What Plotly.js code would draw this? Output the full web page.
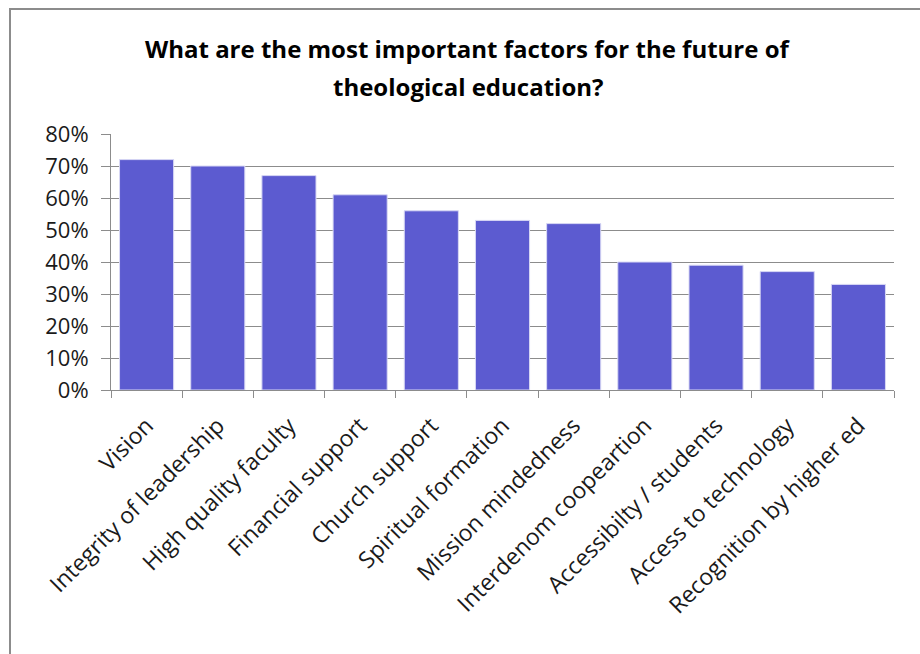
<!DOCTYPE html>
<html>
<head>
<meta charset="utf-8">
<script src="https://cdn.plot.ly/plotly-3.0.1.min.js"></script>
<style>
  html, body { margin: 0; padding: 0; background: #fff; overflow: hidden; }
  #chart { position: absolute; left: 0; top: 0; width: 920px; height: 654px; }
  #frame { position: absolute; left: 9px; top: 8px; width: 1000px; height: 1000px;
           border: 2px solid #8c8c8c; pointer-events: none; }
</style>
</head>
<body>
<div id="chart"></div>
<div id="frame"></div>
<script>
const categories = [
  "Vision", "Integrity of leadership", "High quality faculty", "Financial support",
  "Church support", "Spiritual formation", "Mission mindedness", "Interdenom coopeartion",
  "Accessibilty / students", "Access to technology", "Recognition by higher ed"
];
const values = [0.72, 0.70, 0.67, 0.61, 0.56, 0.53, 0.52, 0.40, 0.39, 0.37, 0.33];
const yTickVals = [0, 0.1, 0.2, 0.3, 0.4, 0.5, 0.6, 0.7, 0.8];
const titleLines = ["What are the most important factors for the future of", "theological education?"];

const FONT = "'Open Sans', 'Liberation Sans', sans-serif";

const trace = {
  type: "bar",
  x: categories,
  y: values,
  marker: { color: "#5c5bd0", line: { color: "#d8d8f4", width: 1 } },
  hoverinfo: "skip"
};

const layout = {
  width: 920, height: 654,
  margin: { l: 111, r: 26, t: 134, b: 264 },
  paper_bgcolor: "#fff", plot_bgcolor: "#fff",
  showlegend: false,
  bargap: 0.24,
  font: { family: FONT, color: "#1a1a1a", size: 22 },
  xaxis: {
    type: "category",
    tickangle: -45,
    ticks: "outside", ticklen: 7, tickcolor: "#8c8c8c", tickwidth: 1,
    tickson: "boundaries",
    showline: true, linecolor: "#8c8c8c", linewidth: 1,
    showgrid: false,
    ticklabelstandoff: 12,
    tickfont: { family: FONT, size: 23, color: "#1a1a1a" },
    fixedrange: true
  },
  yaxis: {
    range: [0, 0.8],
    tickvals: yTickVals,
    tickformat: ".0%",
    ticks: "outside", ticklen: 9, tickcolor: "#8c8c8c", tickwidth: 1,
    showline: true, linecolor: "#8c8c8c", linewidth: 1,
    showgrid: true, gridcolor: "#8c8c8c", gridwidth: 1,
    zeroline: false,
    ticklabelstandoff: 8,
    tickfont: { family: FONT, size: 22, color: "#1a1a1a" },
    fixedrange: true
  },
  annotations: titleLines.map((t, i) => ({
    text: "<b>" + t + "</b>",
    xref: "paper", yref: "paper",
    x: 0.456, y: i === 0 ? (390 - 48) / 256 : (390 - 86) / 256,
    xanchor: "center", yanchor: "middle",
    showarrow: false,
    font: { family: FONT, size: 24, color: "#000" }
  }))
};

Plotly.newPlot("chart", [trace], layout, { staticPlot: true, displayModeBar: false });
</script>
</body>
</html>
